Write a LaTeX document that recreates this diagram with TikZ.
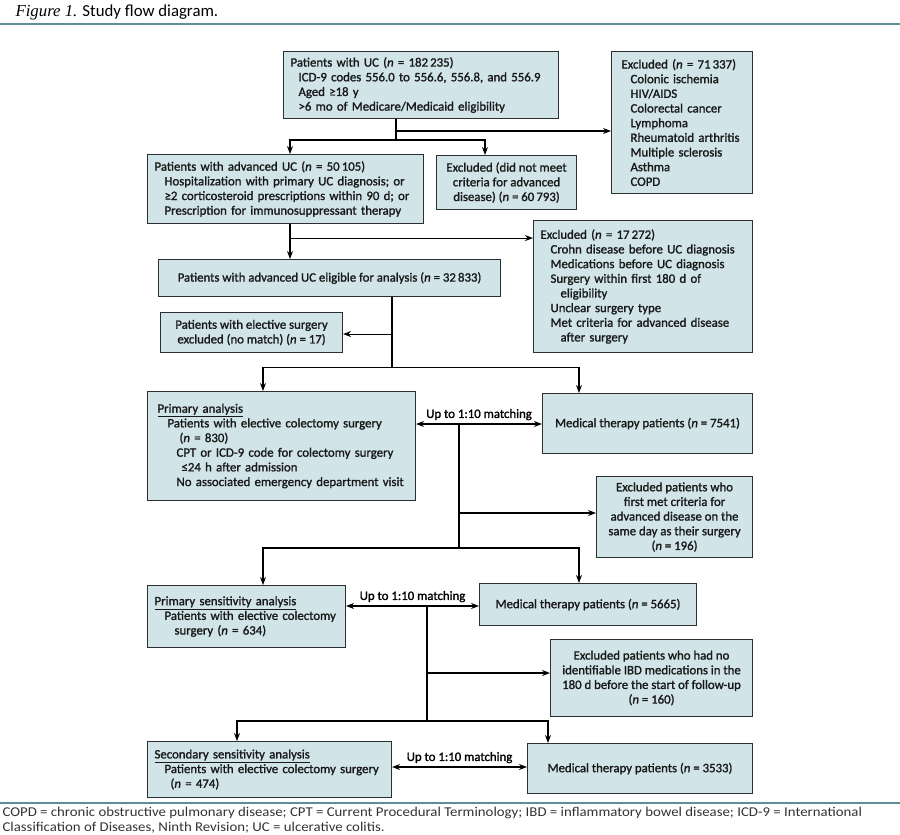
\documentclass[tikz,border=0pt]{standalone}
\usepackage{fontspec}
\setmainfont{Carlito}
\newfontfamily\boxfont{Carlito}[FakeBold=1.4]
\newfontfamily\notefont{Carlito}[FakeStretch=1.1]
\newfontfamily\titlefont{Liberation Serif}
\usetikzlibrary{arrows.meta,positioning,calc}

\definecolor{boxfill}{HTML}{D1E5E9}
\definecolor{boxline}{HTML}{2B2F31}
\definecolor{rulecol}{HTML}{5E8E96}
\newcommand\nn{\textit{n}}
\newcommand\ind[1]{\hspace*{\dimexpr #1pt*3/4\relax}}

\begin{document}
\begin{tikzpicture}[x=0.75pt,y=-0.75pt,>={Stealth[length=6pt,width=4.5pt]},
  line width=0.8pt,
  base/.style={draw=boxline,fill=boxfill,line width=0.8pt,anchor=north west,
    inner ysep=0pt,text=black!90,font=\boxfont\fontsize{9.6}{11}\selectfont},
  box/.style args={#1x#2}{base,inner xsep=5.25pt,align=left,
    text width=\dimexpr(#1pt-14pt)*3/4\relax,minimum height=\dimexpr #2pt*3/4\relax},
  cbox/.style args={#1x#2}{base,inner xsep=1pt,align=center,
    minimum width=\dimexpr #1pt*3/4\relax,minimum height=\dimexpr #2pt*3/4\relax},
  lab/.style={above,inner sep=2.5pt,font=\boxfont\fontsize{9.6}{11}\selectfont}]
\useasboundingbox (0,0) rectangle (900,835);

% title and rules
\node (title) [anchor=west,inner sep=0pt,font=\fontsize{12.6}{14}\selectfont] at (15,12)
  {{\titlefont\itshape Figure 1.} Study flow diagram.};
\draw[rulecol,line width=1.1pt] (0,24) -- (900,24);
\draw[rulecol,line width=1.1pt] (0,803) -- (900,803);

% boxes
\node (uc) [box=275x67] at (283,51) {Patients with UC (\nn{} = 182\,235)\\
  \ind{8}ICD-9 codes 556.0 to 556.6, 556.8, and 556.9\\
  \ind{8}Aged ≥18 y\\
  \ind{8}>6 mo of Medicare/Medicaid eligibility};
\node (ex1) [box=141x142] at (611,51) {\ind{3}Excluded (\nn{} = 71\,337)\\
  \ind{12}Colonic ischemia\\ \ind{12}HIV/AIDS\\ \ind{12}Colorectal cancer\\
  \ind{12}Lymphoma\\ \ind{12}Rheumatoid arthritis\\ \ind{12}Multiple sclerosis\\
  \ind{12}Asthma\\ \ind{12}COPD};
\node (adv) [box=276x69] at (147,154) {Patients with advanced UC (\nn{} = 50\,105)\\
  \ind{10}Hospitalization with primary UC diagnosis; or\\
  \ind{10}≥2 corticosteroid prescriptions within 90 d; or\\
  \ind{10}Prescription for immunosuppressant therapy};
\node (ex2) [cbox=140x54] at (436,155) {Excluded (did not meet\\criteria for advanced\\disease) (\nn{} = 60\,793)};
\node (ex3) [box=219x132] at (533,220) {Excluded (\nn{} = 17\,272)\\
  \ind{10}Crohn disease before UC diagnosis\\
  \ind{10}Medications before UC diagnosis\\
  \ind{10}Surgery within first 180 d of\\
  \ind{20}eligibility\\
  \ind{10}Unclear surgery type\\
  \ind{10}Met criteria for advanced disease\\
  \ind{20}after surgery};
\node (elig) [cbox=342x37] at (158,259) {Patients with advanced UC eligible for analysis (\nn{} = 32\,833)};
\node (nomatch) [cbox=182x40] at (160,312) {Patients with elective surgery\\excluded (no match) (\nn{} = 17)};

\node (prim) [box=268x109] at (147,391) {\ind{3}\underline{Primary analysis}\\
  \ind{13}Patients with elective colectomy surgery\\
  \ind{25}(\nn{} = 830)\\
  \ind{22}CPT or ICD-9 code for colectomy surgery\\
  \ind{27}≤24 h after admission\\
  \ind{22}No associated emergency department visit};
\node (med1) [cbox=210x60] at (542,393) {Medical therapy patients (\nn{} = 7541)};
\node (ex4) [cbox=156x81] at (596,476) {Excluded patients who\\first met criteria for\\advanced disease on the\\same day as their surgery\\(\nn{} = 196)};

\node (prim2) [box=198x62] at (147,585) {\underline{Primary sensitivity analysis}\\
  \ind{10}Patients with elective colectomy\\
  \ind{20}surgery (\nn{} = 634)};
\node (med2) [cbox=217x42] at (479,583) {Medical therapy patients (\nn{} = 5665)};
\node (ex5) [cbox=202x77] at (550,639) {Excluded patients who had no\\identifiable IBD medications in the\\180 d before the start of follow-up\\(\nn{} = 160)};

\node (sec) [box=244x56] at (147,741) {\underline{Secondary sensitivity analysis}\\
  \ind{10}Patients with elective colectomy surgery\\
  \ind{16}(\nn{} = 474)};
\node (med3) [cbox=225x50] at (527,743) {Medical therapy patients (\nn{} = 3533)};

% connectors, first stage
\coordinate (j1) at (396,131);
\coordinate (j2) at (396,140);
\draw (uc.south -| j2) -- (j2);
\draw[->] (j1) -- (ex1.west |- j1);
\draw[->] (j2) -| ($(adv.north west)+(143,0)$);
\draw[->] (j2) -| ($(ex2.north west)+(49,0)$);
\coordinate (k0) at ($(adv.south west)+(143,0)$);
\coordinate (k1) at ($(k0)+(0,14)$);
\draw[->] (k0) -- (k0 |- elig.north);
\draw[->] (k1) -- (ex3.west |- k1);
\coordinate (m0) at ($(elig.south west)+(234,0)$);
\coordinate (m1) at ($(m0)+(0,37)$);
\coordinate (m2) at ($(m0)+(0,70)$);
\draw (m0) -- (m2);
\draw[->] (m1) -- (nomatch.east |- m1);
\draw[->] (m2) -| ($(prim.north west)+(116,0)$);
\draw[->] (m2) -| ($(med1.north west)+(37,0)$);

% primary analysis
\coordinate (q0) at (459,424);
\coordinate (q1) at (459,513);
\coordinate (q2) at (459,548);
\draw[<->] (prim.east |- q0) -- node[lab]{Up to 1:10 matching} (med1.west |- q0);
\draw (q0) -- (q2);
\draw[->] (q1) -- (ex4.west |- q1);
\draw[->] (q2) -| ($(prim2.north west)+(116,0)$);
\draw[->] (q2) -| ($(med2.north west)+(100,0)$);

% primary sensitivity analysis
\coordinate (r0) at (427,606);
\coordinate (r1) at (427,673);
\coordinate (r2) at (427,721);
\draw[<->] (prim2.east |- r0) -- node[lab]{Up to 1:10 matching} (med2.west |- r0);
\draw (r0) -- (r2);
\draw[->] (r1) -- (ex5.west |- r1);
\draw[->] (r2) -| ($(sec.north west)+(90,0)$);
\draw[->] (r2) -| ($(med3.north west)+(21,0)$);

% secondary sensitivity analysis
\coordinate (s0) at (459,767);
\draw[<->] (sec.east |- s0) -- node[lab]{Up to 1:10 matching} (med3.west |- s0);

% footnote
\node (note) [anchor=north west,inner sep=0pt,align=left,text=black!80,
  font=\notefont\fontsize{10.1}{10.6}\selectfont] at (2,807)
  {COPD = chronic obstructive pulmonary disease; CPT = Current Procedural Terminology; IBD = inflammatory bowel disease; ICD-9 = International\\
   Classification of Diseases, Ninth Revision; UC = ulcerative colitis.};
\end{tikzpicture}
\end{document}
